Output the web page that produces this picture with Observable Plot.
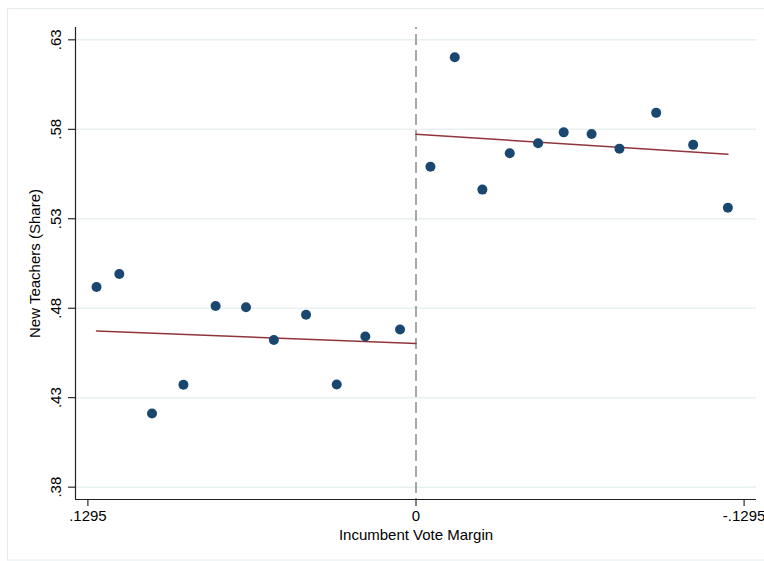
<!DOCTYPE html>
<html><head><meta charset="utf-8">
<script src="https://cdn.jsdelivr.net/npm/d3@7"></script>
<script src="https://cdn.jsdelivr.net/npm/@observablehq/plot@0.6"></script>
<style>
html,body{margin:0;padding:0;background:#fff;}
#chart{position:relative;width:764px;height:561px;overflow:hidden;}
#chart svg{display:block;}
</style></head><body><div id="chart"></div>
<script>
// Binned means, left of cutoff (incumbent margin > 0)
const leftX = [0.1261, 0.1171, 0.1042, 0.0918, 0.0791, 0.0671, 0.0561, 0.0434, 0.0313, 0.0200, 0.0063];
const leftY = [0.4919, 0.4991, 0.4212, 0.4372, 0.4812, 0.4805, 0.4622, 0.4764, 0.4374, 0.4642, 0.4681];
// Binned means, right of cutoff (incumbent margin < 0)
const rightX = [-0.0057, -0.0153, -0.0262, -0.0370, -0.0482, -0.0583, -0.0693, -0.0803, -0.0948, -0.1094, -0.1231];
const rightY = [0.5591, 0.6203, 0.5463, 0.5666, 0.5722, 0.5783, 0.5774, 0.5692, 0.5892, 0.5713, 0.5362];
// Linear fit endpoints
const fitLeftX = [0.1261, 0.0];
const fitLeftY = [0.4673, 0.4603];
const fitRightX = [0.0, -0.1231];
const fitRightY = [0.5772, 0.5660];
// Axes
const xTicks = [0.1295, 0, -0.1295];
const yTicks = [0.38, 0.43, 0.48, 0.53, 0.58, 0.63];
const xDomain = [-0.1344, 0.1344];
const yDomain = [0.3731, 0.6369];
const cutoff = [0];

const fmt = v => v === 0 ? "0" : (v < 0 ? "-" : "") + String(+Math.abs(v).toFixed(4)).replace(/^0/, "");

const points = leftX.map((x, i) => ({x, y: leftY[i]})).concat(rightX.map((x, i) => ({x, y: rightY[i]})));
const fitL = fitLeftX.map((x, i) => ({x, y: fitLeftY[i]}));
const fitR = fitRightX.map((x, i) => ({x, y: fitRightY[i]}));

const chart = Plot.plot({
  width: 764, height: 561,
  marginLeft: 75, marginRight: 8, marginTop: 27, marginBottom: 62,
  style: {fontFamily: "'Liberation Sans', Arial, Helvetica, sans-serif", fontSize: "15px", color: "#000", background: "#fff"},
  x: {domain: xDomain, reverse: true},
  y: {domain: yDomain},
  marks: [
    Plot.gridY(yTicks, {stroke: "#e8f0f1", strokeOpacity: 1, strokeWidth: 1.5}),
    Plot.ruleX(cutoff, {stroke: "#8a8a8a", strokeWidth: 1.5, strokeDasharray: "11,5", strokeDashoffset: 9}),
    Plot.line(fitL, {x: "x", y: "y", stroke: "#90353b", strokeWidth: 1.5}),
    Plot.line(fitR, {x: "x", y: "y", stroke: "#90353b", strokeWidth: 1.5}),
    Plot.dot(points, {x: "x", y: "y", r: 5, fill: "#1a476f", stroke: "none"}),
    Plot.axisY(yTicks, {tickSize: 7, tickPadding: 8, tickRotate: -90, tickFormat: fmt, label: "New Teachers (Share)", labelAnchor: "center", labelArrow: "none", labelOffset: 46}),
    Plot.axisX(xTicks, {tickSize: 7, tickPadding: 4, tickFormat: fmt, label: "Incumbent Vote Margin", labelAnchor: "center", labelArrow: "none", labelOffset: 40}),
    Plot.ruleY([yDomain[0]], {stroke: "#222", strokeWidth: 1.2}),
    Plot.ruleX([xDomain[1]], {stroke: "#222", strokeWidth: 1.2})
  ]
});
d3.select(chart).insert("rect", ":first-child")
  .attr("x", 7.5).attr("y", 8.5).attr("width", 780).attr("height", 551.5)
  .attr("fill", "#fff").attr("stroke", "#e4ecee").attr("stroke-width", 1);
document.getElementById("chart").appendChild(chart);
</script>
</body></html>
